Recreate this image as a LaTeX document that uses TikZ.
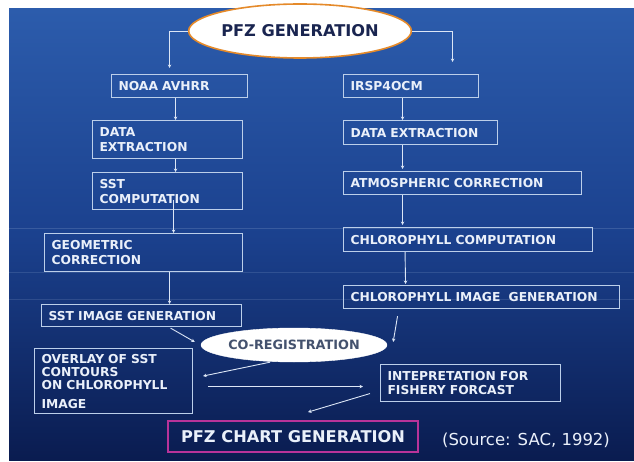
\documentclass[tikz,border=0pt]{standalone}
\usepackage{fontspec}
\setmainfont{DejaVu Sans}
\usetikzlibrary{arrows.meta,shapes.geometric}
\definecolor{bgtop}{HTML}{2C5CAC}
\definecolor{bgmid}{HTML}{1B418E}
\definecolor{bgbot}{HTML}{0A1C50}
\definecolor{boxline}{HTML}{BCCFEA}
\definecolor{boxtext}{HTML}{EAF0FA}
\definecolor{navytext}{HTML}{1A2550}
\definecolor{greytext}{HTML}{44526E}
\definecolor{orangeline}{HTML}{E58A2A}
\definecolor{magline}{HTML}{B8339A}
\definecolor{arrowcol}{HTML}{DCE6F6}
\tikzset{
  boxnode/.style={draw=boxline, line width=1.1pt, anchor=north west, inner xsep=7pt, inner ysep=2pt,
     align=left, text=boxtext, font=\bfseries\fontsize{12.3}{15}\selectfont},
  arr/.style={draw=arrowcol, line width=0.9pt, -{Stealth[length=3.5pt,width=3.5pt]}},
}
\begin{document}
\begin{tikzpicture}[x=1pt,y=-1pt]
\useasboundingbox (0,0) rectangle (634,462);
\fill[white] (0,0) rectangle (634,462);
\shade[top color=bgtop, bottom color=bgbot, middle color=bgmid, shading angle=0] (9,9) rectangle (634,460);
% faint background streaks
\draw[boxline, opacity=0.18, line width=0.8pt] (9,228) -- (634,228);
\draw[boxline, opacity=0.15, line width=0.8pt] (9,272) -- (634,272);
\draw[boxline, opacity=0.15, line width=0.8pt] (9,299) -- (634,299);

% top ellipse
\node[ellipse, draw=orangeline, line width=1.6pt, fill=white, minimum width=184pt, minimum height=54pt,
      inner sep=0pt, text=navytext, font=\bfseries\fontsize{16.2}{18}\selectfont] (pfz) at (300,31) {PFZ GENERATION};

% left column
\node[boxnode, text width=122pt, minimum height=23pt] (noaa) at (111,74) {NOAA AVHRR};
\node[boxnode, text width=136pt, minimum height=38pt] (dextl) at (92,120) {DATA\\EXTRACTION};
\node[boxnode, text width=136pt, minimum height=37pt] (sst) at (92,172) {SST\\COMPUTATION};
\node[boxnode, text width=184pt, minimum height=38pt] (geo) at (44,233) {GEOMETRIC\\CORRECTION};
\node[boxnode, text width=186pt, minimum height=22pt] (ssti) at (41,304) {SST IMAGE GENERATION};

% right column
\node[boxnode, text width=121pt, minimum height=23pt] (irsp) at (343,74) {IRSP4OCM};
\node[boxnode, text width=140pt, minimum height=24pt] (dextr) at (343,120) {DATA EXTRACTION};
\node[boxnode, text width=224pt, minimum height=23pt] (atm) at (343,171) {ATMOSPHERIC CORRECTION};
\node[boxnode, text width=235pt, minimum height=24pt] (chc) at (343,227) {CHLOROPHYLL COMPUTATION};
\node[boxnode, text width=262pt, minimum height=23pt] (chi) at (343,285) {CHLOROPHYLL IMAGE~~GENERATION};

% co-registration
\node[ellipse, fill=white, draw=white, minimum width=160pt, minimum height=34pt, inner sep=0pt,
      text=greytext, font=\bfseries\fontsize{12.8}{15}\selectfont] (coreg) at (294,345) {CO-REGISTRATION};

% lower boxes
\node[boxnode, text width=144pt, minimum height=65pt, font=\bfseries\fontsize{12.3}{13}\selectfont, inner ysep=3pt]
   (ovl) at (34,348) {OVERLAY OF SST\\CONTOURS\\ON CHLOROPHYLL\\[6pt]IMAGE};
\node[boxnode, text width=166pt, minimum height=37pt, font=\bfseries\fontsize{12.3}{14}\selectfont]
   (intp) at (380,364) {INTEPRETATION FOR\\FISHERY FORCAST};
\node[draw=magline, line width=1.8pt, minimum width=250pt, minimum height=31pt, inner sep=0pt,
      text=boxtext, font=\bfseries\fontsize{16.2}{18}\selectfont] (pfzc) at (293,436.5) {PFZ CHART GENERATION};
\node[text=boxtext, font=\fontsize{16.5}{18}\selectfont, inner sep=0pt] (src) at (526,440) {(Source: SAC, 1992)};

% connectors
\draw[arr] (pfz.west) -| ([xshift=-10pt,yshift=6pt]noaa.north);
\draw[arr] (pfz.east) -| ([xshift=41.5pt,yshift=12pt]irsp.north);
\draw[arr] ([xshift=-4pt]noaa.south) -- ([xshift=8pt]dextl.north);
\draw[arr] ([xshift=8pt]dextl.south) -- ([xshift=8pt]sst.north);
\draw[arr] ([xshift=6pt,yshift=10pt]sst.south) -- ([xshift=30pt]geo.north);
\draw[arr] ([xshift=26pt]geo.south) -- ([xshift=28pt]ssti.north);
\draw[arr] ([xshift=-8.5pt]irsp.south) -- ([xshift=-18pt]dextr.north);
\draw[arr] ([xshift=-18pt]dextr.south) -- ([xshift=-60pt,yshift=2pt]atm.north);
\draw[arr] ([xshift=-60pt]atm.south) -- ([xshift=-65.5pt,yshift=2pt]chc.north);
\draw[arr] ([xshift=-63pt]chc.south) -- ([xshift=-76pt,yshift=1pt]chi.north);
\draw[arr] ([xshift=29pt,yshift=-1pt]ssti.south) -- ([xshift=-6pt,yshift=3pt]coreg.west);
\draw[arr] ([xshift=-84pt,yshift=-7pt]chi.south) -- ([xshift=6pt,yshift=3pt]coreg.east);
\draw[arr] ([xshift=-24pt]coreg.south) -- ([xshift=10pt,yshift=5pt]ovl.east);
\draw[arr] ([xshift=15pt,yshift=-5.5pt]ovl.east) -- ([xshift=-17pt,yshift=-3.5pt]intp.west);
\draw[arr] ([xshift=-10pt,yshift=-10.5pt]intp.west) -- ([xshift=15pt,yshift=8pt]pfzc.north);
\end{tikzpicture}
\end{document}
